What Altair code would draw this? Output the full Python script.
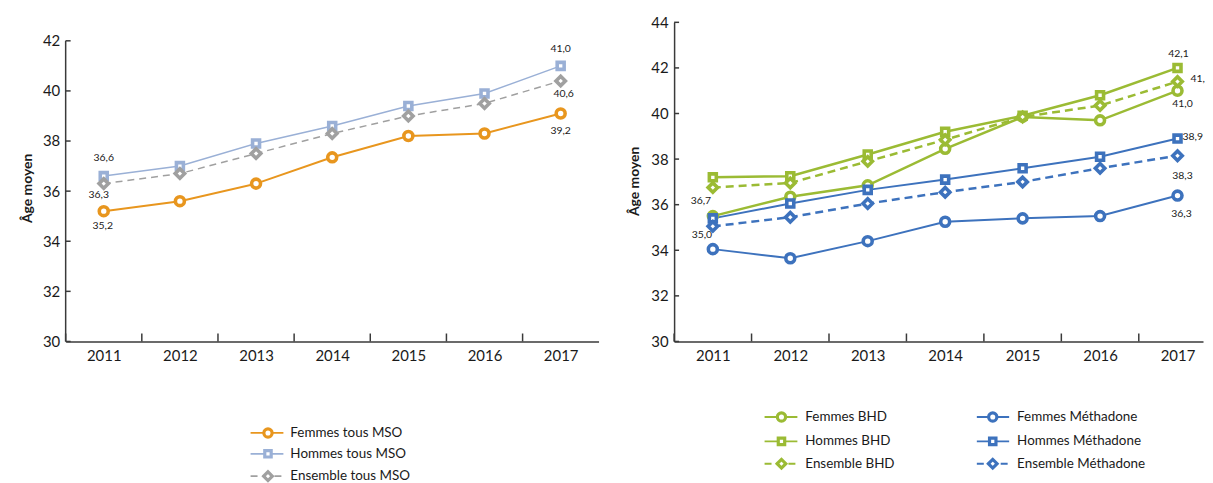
import altair as alt
import pandas as pd

years = [2011, 2012, 2013, 2014, 2015, 2016, 2017]

# ---- Left panel: tous MSO ----
femmes_mso = [35.2, 35.6, 36.3, 37.35, 38.2, 38.3, 39.1]
hommes_mso = [36.6, 37.0, 37.9, 38.6, 39.4, 39.9, 41.0]
ensemble_mso = [36.3, 36.7, 37.5, 38.3, 39.0, 39.5, 40.4]

# ---- Right panel: BHD / Méthadone ----
femmes_bhd = [35.5, 36.35, 36.85, 38.45, 39.85, 39.7, 41.0]
hommes_bhd = [37.2, 37.25, 38.2, 39.2, 39.9, 40.8, 42.0]
ensemble_bhd = [36.75, 36.95, 37.9, 38.85, 39.85, 40.35, 41.4]
femmes_met = [34.05, 33.65, 34.4, 35.25, 35.4, 35.5, 36.4]
hommes_met = [35.4, 36.05, 36.65, 37.1, 37.6, 38.1, 38.9]
ensemble_met = [35.05, 35.45, 36.05, 36.55, 37.0, 37.6, 38.15]

left_ticks = [30, 32, 34, 36, 38, 40, 42]
right_ticks = [30, 32, 34, 36, 38, 40, 42, 44]

# data labels (series, year, text)
left_label_series = ["Hommes tous MSO", "Ensemble tous MSO", "Femmes tous MSO",
                     "Hommes tous MSO", "Ensemble tous MSO", "Femmes tous MSO"]
left_label_years = [2011, 2011, 2011, 2017, 2017, 2017]
left_label_texts = ["36,6", "36,3", "35,2", "41,0", "40,6", "39,2"]

right_label_series = ["Hommes BHD", "Ensemble BHD", "Femmes BHD", "Hommes Méthadone",
                      "Ensemble Méthadone", "Femmes Méthadone", "Ensemble BHD", "Ensemble Méthadone"]
right_label_years = [2017, 2017, 2017, 2017, 2017, 2017, 2011, 2011]
right_label_texts = ["42,1", "41,8", "41,0", "38,9", "38,3", "36,3", "36,7", "35,0"]

# ---- styles ----
FONT = "Lato"
TEXT = "#1a1a1a"
AXIS = "#3a3a3a"
ORANGE = "#E8961E"
LBLUE = "#9AB0D6"
GREY = "#A0A0A0"
GREEN = "#9BBB34"
BLUE = "#3D72BD"

left_series = [
    dict(name="Femmes tous MSO", values=femmes_mso, color=ORANGE, shape="circle", size=81, lw=2.0),
    dict(name="Hommes tous MSO", values=hommes_mso, color=LBLUE, shape="square", size=49, lw=1.5),
    dict(name="Ensemble tous MSO", values=ensemble_mso, color=GREY, shape="diamond", size=90, lw=1.5, dash=[7, 5]),
]
right_series = [
    dict(name="Femmes BHD", values=femmes_bhd, color=GREEN, shape="circle", size=81, lw=2.5),
    dict(name="Hommes BHD", values=hommes_bhd, color=GREEN, shape="square", size=49, lw=2.5),
    dict(name="Ensemble BHD", values=ensemble_bhd, color=GREEN, shape="diamond", size=90, lw=2.5, dash=[8, 5]),
    dict(name="Femmes Méthadone", values=femmes_met, color=BLUE, shape="circle", size=81, lw=2.0),
    dict(name="Hommes Méthadone", values=hommes_met, color=BLUE, shape="square", size=49, lw=2.0),
    dict(name="Ensemble Méthadone", values=ensemble_met, color=BLUE, shape="diamond", size=90, lw=2.5, dash=[8, 5]),
]

# label offsets (dx, dy, align, limit)
left_label_style = [(0, -18, "center", 0), (-5, 11, "center", 0), (-1, 15, "center", 0),
                    (0, -17, "center", 0), (3, 13, "center", 0), (0, 18, "center", 0)]
right_label_style = [(1, -14, "center", 0), (13, -3, "left", 16), (5, 13, "center", 0), (5, -2, "left", 0),
                     (5, 20, "center", 0), (4, 19, "center", 0), (-12, 14, "center", 0), (-11, 9, "center", 0)]

# legend layout: (series index, x line start, x line end, marker x, text x, y)
left_legend = [(0, 186, 219, 203.5, 226, 413), (1, 186, 219, 203.5, 226, 434), (2, 186, 219, 203.5, 226, 456.5)]
right_legend = [(0, 91, 124, 108, 132, 397), (1, 91, 124, 108, 132, 421.5), (2, 91, 124, 108, 132, 444),
                (3, 304.5, 337, 320.5, 345, 397), (4, 304.5, 337, 320.5, 345, 421.5), (5, 304.5, 337, 320.5, 345, 444)]


def make_panel(series, lab_series, lab_years, lab_texts, lab_style, legend, ytop, yticks,
               width, height, xmax, domain_rule, title_pos):
    x_enc = alt.X("year:Q",
                  scale=alt.Scale(domain=[years[0] - 0.5, xmax], nice=False, zero=False),
                  axis=alt.Axis(values=years, format="d", ticks=False, tickSize=0, grid=False, title=None,
                                domain=True, domainColor=AXIS, domainWidth=1.5, labelFontSize=15,
                                labelPadding=7, labelColor=TEXT, labelFont=FONT, labelFlush=False,
                                labelOverlap=False))
    y_enc = alt.Y("value:Q",
                  scale=alt.Scale(domain=[30, ytop], nice=False, zero=False),
                  axis=alt.Axis(values=yticks, ticks=False, tickSize=0, grid=False, title=None,
                                domain=not domain_rule, domainColor=AXIS, domainWidth=1.5,
                                labelFontSize=15, labelPadding=6, labelColor=TEXT, labelFont=FONT,
                                labelFlush=False, labelOverlap=False))
    layers = []
    by_name = {}
    for s in series:
        d = pd.DataFrame({"year": years, "value": s["values"]})
        by_name[s["name"]] = s
        kw = dict(color=s["color"], strokeWidth=s["lw"])
        if "dash" in s:
            kw["strokeDash"] = s["dash"]
        layers.append(alt.Chart(d).mark_line(**kw).encode(x=x_enc, y=y_enc))
    # axis tick marks (inward), at category boundaries
    edges = [y - 0.5 for y in years] + [years[-1] + 0.5]
    edges = [e for e in edges if e <= xmax + 1e-9]
    layers.append(alt.Chart(pd.DataFrame({"year": edges})).mark_rule(color=AXIS, strokeWidth=1.5)
                  .encode(x=x_enc, y=alt.value(height), y2=alt.value(height - 8)))
    layers.append(alt.Chart(pd.DataFrame({"value": yticks})).mark_rule(color=AXIS, strokeWidth=1.5)
                  .encode(y=y_enc, x=alt.value(0), x2=alt.value(5)))
    if domain_rule:
        layers.append(alt.Chart(pd.DataFrame({"value": [yticks[0]], "value_end": [yticks[-1]]}))
                      .mark_rule(color=AXIS, strokeWidth=1.5)
                      .encode(x=alt.value(0), y=y_enc, y2="value_end:Q"))
    for s in series:
        d = pd.DataFrame({"year": years, "value": s["values"]})
        layers.append(alt.Chart(d).mark_point(shape=s["shape"], size=s["size"], filled=True, fill="white",
                                              stroke=s["color"], strokeWidth=3.6, opacity=1)
                      .encode(x=x_enc, y=y_enc))
    # data labels
    for name, yr, txt, (dx, dy, al, lim) in zip(lab_series, lab_years, lab_texts, lab_style):
        s = by_name[name]
        v = s["values"][years.index(yr)]
        d = pd.DataFrame({"year": [yr], "value": [v], "t": [txt]})
        kw = dict(dx=dx, dy=dy, align=al, baseline="middle", fontSize=10.5, font=FONT, color=TEXT)
        if lim:
            kw["limit"] = lim
            kw["ellipsis"] = "\u200b"
        layers.append(alt.Chart(d).mark_text(**kw).encode(x=x_enc, y=y_enc, text="t:N"))
    # axis title
    layers.append(alt.Chart(pd.DataFrame({"t": ["Âge moyen"]}))
                  .mark_text(angle=270, align="center", baseline="middle", fontSize=14, fontWeight="bold",
                             font=FONT, color=TEXT)
                  .encode(x=alt.value(title_pos[0]), y=alt.value(title_pos[1]), text="t:N"))
    # legend
    for idx, x1, x2, xm, xt, yy in legend:
        s = series[idx]
        d = pd.DataFrame({"label": [s["name"]]})
        kw = dict(color=s["color"], strokeWidth=1.8)
        if "dash" in s:
            kw["strokeDash"] = [7, 5]
        layers.append(alt.Chart(d).mark_rule(**kw)
                      .encode(x=alt.value(x1), x2=alt.value(x2), y=alt.value(yy)))
        layers.append(alt.Chart(d).mark_point(shape=s["shape"], size=s["size"] * 0.85, filled=True,
                                              fill="white", stroke=s["color"], strokeWidth=3.2, opacity=1)
                      .encode(x=alt.value(xm), y=alt.value(yy)))
        layers.append(alt.Chart(d).mark_text(align="left", baseline="middle", fontSize=13.5, font=FONT,
                                             color=TEXT)
                      .encode(x=alt.value(xt), y=alt.value(yy), text="label:N"))
    return alt.layer(*layers).properties(width=width, height=height)


H = 321
LEFT_STEP = 76.6
RIGHT_STEP = 77.9
LEFT_W = 536
RIGHT_W = 532

left = make_panel(left_series, left_label_series, left_label_years, left_label_texts, left_label_style,
                  left_legend, 30 + H / 25.2, left_ticks, LEFT_W, H, years[0] - 0.5 + LEFT_W / LEFT_STEP,
                  True, (-38, 167))
right = make_panel(right_series, right_label_series, right_label_years, right_label_texts,
                   right_label_style, right_legend, 44, right_ticks, RIGHT_W, H,
                   years[0] - 0.5 + RIGHT_W / RIGHT_STEP, False, (-39, 160))

chart = (alt.hconcat(left, right, spacing=76, bounds="flush")
         .properties(padding={"left": 13, "top": 6, "right": 0, "bottom": 0})
         .configure_view(stroke=None)
         .configure_axis(grid=False))

chart.save("out.html", embed_options={"renderer": "svg", "actions": False})
